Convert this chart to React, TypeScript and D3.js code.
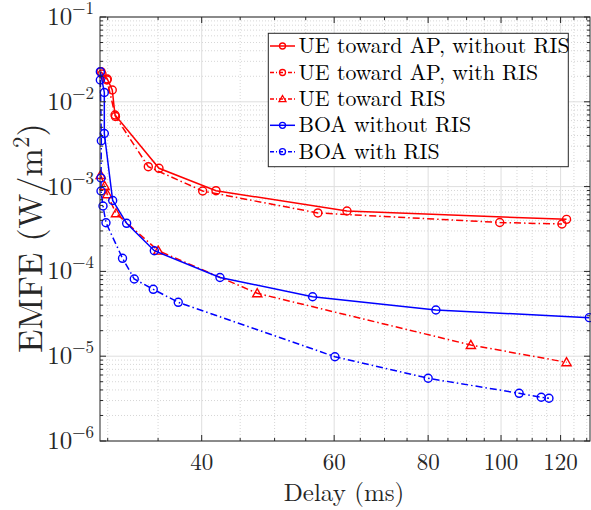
import React from "react";
import * as d3 from "d3";

const W = 591;
const H = 510;
const M = { left: 100, right: 590, top: 17, bottom: 441 };

const xDomain = [29.3, 131.3];
const yDomain = [1e-6, 1e-1];
const xMajorTicks = [40, 60, 80, 100, 120];
const yMajorTicks = [-6, -5, -4, -3, -2, -1];

// UE toward AP, without RIS
const delayAPNoRIS = [29.39, 29.96, 30.42, 30.68, 35.1, 41.79, 62.4, 122.2];
const emfeAPNoRIS = [0.02265, 0.01858, 0.01377, 0.00699, 0.001643, 0.000895, 0.000515, 0.000411];
// UE toward AP, with RIS
const delayAPRIS = [29.48, 29.93, 30.72, 33.97, 40.12, 57.08, 99.6, 120.5];
const emfeAPRIS = [0.02128, 0.01807, 0.00671, 0.001717, 0.000887, 0.000489, 0.000377, 0.000362];
// UE toward RIS
const delayUERIS = [29.36, 29.72, 29.96, 30.77, 35.02, 47.41, 91.18, 122.2];
const emfeUERIS = [0.001371, 0.001016, 0.000811, 0.000484, 0.0001754, 5.52e-5, 1.355e-5, 8.47e-6];
// BOA without RIS
const delayBOANoRIS = [29.33, 29.69, 29.69, 30.46, 31.79, 34.6, 42.3, 56.17, 81.92, 131.04];
const emfeBOANoRIS = [0.02265, 0.01288, 0.004227, 0.000686, 0.000369, 0.0001754, 8.47e-5, 5.03e-5, 3.51e-5, 2.85e-5];
// BOA with RIS
const delayBOARIS = [29.33, 29.42, 29.39, 29.39, 29.57, 29.84, 31.39, 32.54, 34.49, 37.23, 60.14, 80.01, 105.7, 113.1, 115.8];
const emfeBOARIS = [0.01807, 0.003477, 0.001262, 0.000887, 0.000591, 0.000375, 0.0001427, 8.13e-5, 6.15e-5, 4.32e-5, 9.86e-6, 5.49e-6, 3.65e-6, 3.28e-6, 3.19e-6];

const seriesNames = [
  "UE toward AP, without RIS",
  "UE toward AP, with RIS",
  "UE toward RIS",
  "BOA without RIS",
  "BOA with RIS",
];
const seriesColors = ["#ff0000", "#ff0000", "#ff0000", "#0000ff", "#0000ff"];
const seriesDash = [null, "7,3,1.5,3", "7,3,1.5,3", null, "7,3,1.5,3"];
const seriesMarker = ["circle", "circle", "triangle", "circle", "circle"];
const seriesX = [delayAPNoRIS, delayAPRIS, delayUERIS, delayBOANoRIS, delayBOARIS];
const seriesY = [emfeAPNoRIS, emfeAPRIS, emfeUERIS, emfeBOANoRIS, emfeBOARIS];

const FONT = "'Latin Modern Roman', 'Liberation Serif', serif";
const AX = "#262626";

function Marker({ type, x, y, color }: { type: string; x: number; y: number; color: string }) {
  if (type === "triangle") {
    const s = 4.6;
    const pts = `${x},${y - s} ${x - s},${y + s * 0.75} ${x + s},${y + s * 0.75}`;
    return <polygon points={pts} fill="none" stroke={color} strokeWidth={1.4} />;
  }
  return <circle cx={x} cy={y} r={4} fill="none" stroke={color} strokeWidth={1.4} />;
}

export default function App() {
  const x = d3.scaleLog().domain(xDomain).range([M.left, M.right]);
  const y = d3.scaleLog().domain(yDomain).range([M.bottom, M.top]);

  const xMinor: number[] = [];
  for (let v = 30; v <= 130; v += 5) if (!xMajorTicks.includes(v)) xMinor.push(v);
  const yMinor: number[] = [];
  for (let e = -6; e < -1; e++) for (let k = 2; k <= 9; k++) yMinor.push(k * Math.pow(10, e));

  const line = d3
    .line<[number, number]>()
    .x((d) => x(d[0]))
    .y((d) => y(d[1]));

  const legendRows = [46, 72.5, 99, 125.3, 151.7];

  return (
    <svg width={W} height={H} style={{ position: "absolute", left: 0, top: 0, background: "#fff" }}>
      <rect x={0} y={0} width={W} height={H} fill="#fff" />
      {xMinor.map((v) => (
        <line key={"xm" + v} x1={x(v)} x2={x(v)} y1={M.top} y2={M.bottom} stroke="#cccccc" strokeWidth={0.8} strokeDasharray="1,2" />
      ))}
      {yMinor.map((v, i) => (
        <line key={"ym" + i} x1={M.left} x2={M.right} y1={y(v)} y2={y(v)} stroke="#cccccc" strokeWidth={0.8} strokeDasharray="1,2" />
      ))}
      {xMajorTicks.map((v) => (
        <line key={"xg" + v} x1={x(v)} x2={x(v)} y1={M.top} y2={M.bottom} stroke="#dedede" strokeWidth={1} />
      ))}
      {yMajorTicks.map((e) => (
        <line key={"yg" + e} x1={M.left} x2={M.right} y1={y(Math.pow(10, e))} y2={y(Math.pow(10, e))} stroke="#dedede" strokeWidth={1} />
      ))}

      {seriesX.map((xs, si) => {
        const pts: [number, number][] = xs.map((v, i) => [v, seriesY[si][i]]);
        return (
          <g key={"s" + si}>
            <path d={line(pts) || ""} fill="none" stroke={seriesColors[si]} strokeWidth={1.5} strokeDasharray={seriesDash[si] || undefined} />
            {pts.map((p, i) => (
              <Marker key={i} type={seriesMarker[si]} x={x(p[0])} y={y(p[1])} color={seriesColors[si]} />
            ))}
          </g>
        );
      })}

      <rect x={M.left} y={M.top} width={M.right - M.left} height={M.bottom - M.top} fill="none" stroke={AX} strokeWidth={1} />
      {xMajorTicks.map((v) => (
        <g key={"xt" + v}>
          <line x1={x(v)} x2={x(v)} y1={M.bottom} y2={M.bottom - 6} stroke={AX} />
          <line x1={x(v)} x2={x(v)} y1={M.top} y2={M.top + 6} stroke={AX} />
          <text x={x(v)} y={470} textAnchor="middle" style={{ fontFamily: FONT, fontSize: 23 }} fill={AX}>
            {v}
          </text>
        </g>
      ))}
      {xMinor.map((v) => (
        <g key={"xmt" + v}>
          <line x1={x(v)} x2={x(v)} y1={M.bottom} y2={M.bottom - 3} stroke={AX} />
          <line x1={x(v)} x2={x(v)} y1={M.top} y2={M.top + 3} stroke={AX} />
        </g>
      ))}
      {yMajorTicks.map((e) => {
        const yy = y(Math.pow(10, e));
        return (
          <g key={"yt" + e}>
            <line x1={M.left} x2={M.left + 6} y1={yy} y2={yy} stroke={AX} />
            <line x1={M.right} x2={M.right - 6} y1={yy} y2={yy} stroke={AX} />
            <text x={94} y={yy + 8} textAnchor="end" style={{ fontFamily: FONT, fontSize: 25 }} fill={AX}>
              10
              <tspan dy={-11} style={{ fontSize: 17 }}>
                {"\u2212" + Math.abs(e)}
              </tspan>
            </text>
          </g>
        );
      })}
      {yMinor.map((v, i) => (
        <g key={"ymt" + i}>
          <line x1={M.left} x2={M.left + 3} y1={y(v)} y2={y(v)} stroke={AX} />
          <line x1={M.right} x2={M.right - 3} y1={y(v)} y2={y(v)} stroke={AX} />
        </g>
      ))}

      <text x={344} y={501} textAnchor="middle" style={{ fontFamily: FONT, fontSize: 25 }} fill={AX}>
        Delay (ms)
      </text>
      <text transform="translate(42,238) rotate(-90)" textAnchor="middle" style={{ fontFamily: FONT, fontSize: 34 }} fill={AX}>
        EMFE (W/m
        <tspan dy={-13} style={{ fontSize: 23 }}>2</tspan>
        <tspan dy={13}>)</tspan>
      </text>

      <rect x={268.3} y={33.3} width={300} height={133.4} fill="#fff" stroke={AX} strokeWidth={1} />
      {seriesNames.map((name, i) => {
        const yy = legendRows[i];
        return (
          <g key={"lg" + i}>
            <line x1={270} x2={295} y1={yy} y2={yy} stroke={seriesColors[i]} strokeWidth={1.5} strokeDasharray={seriesDash[i] ? "4,2,1,2" : undefined} />
            {seriesMarker[i] === "triangle" ? (
              <polygon points={`${282.5},${yy - 3.5} ${279},${yy + 2.6} ${286},${yy + 2.6}`} fill="none" stroke={seriesColors[i]} strokeWidth={1.3} />
            ) : (
              <circle cx={282.5} cy={yy} r={3} fill="none" stroke={seriesColors[i]} strokeWidth={1.3} />
            )}
            <text x={298.5} y={yy + 7} style={{ fontFamily: FONT, fontSize: 21.8 }} fill="#000">
              {name}
            </text>
          </g>
        );
      })}
    </svg>
  );
}
